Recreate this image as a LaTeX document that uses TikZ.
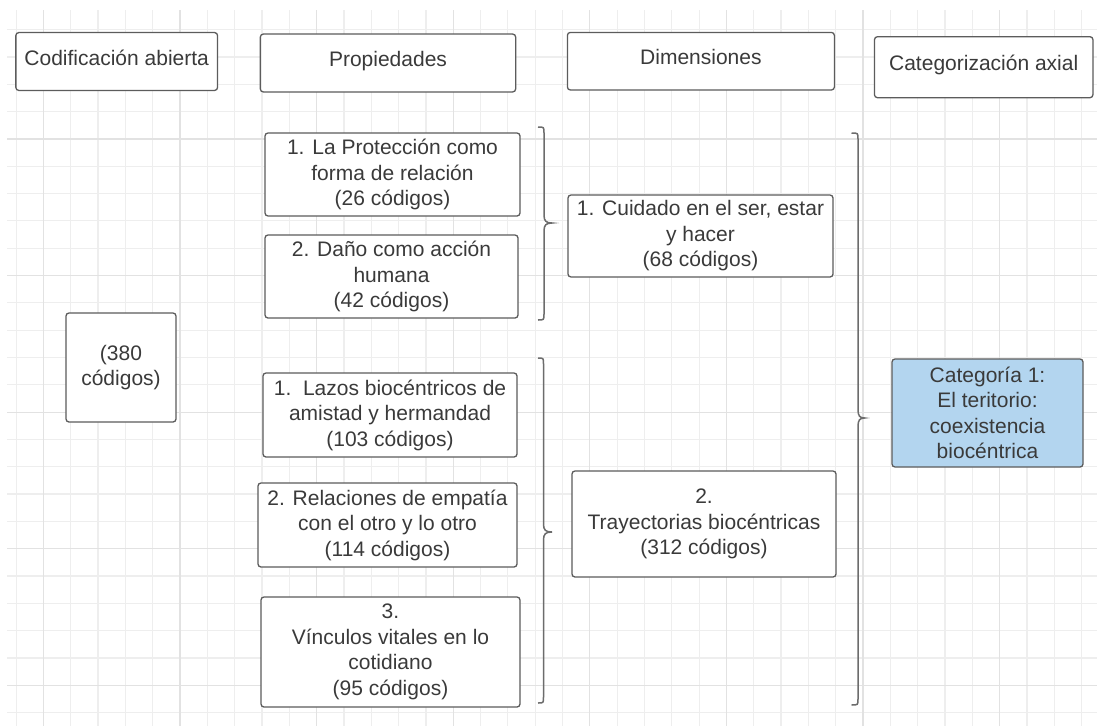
\documentclass[tikz,border=0pt]{standalone}
\usepackage{fontspec}
\setmainfont{Liberation Sans}
\definecolor{gminor}{HTML}{EEEEEE}
\definecolor{gmajor}{HTML}{E2E2E2}
\definecolor{boxline}{HTML}{5C5C5C}
\definecolor{txt}{HTML}{3A3A3A}
\definecolor{catblue}{HTML}{B3D5EF}
\tikzset{
  gridminor/.style={draw=gminor, line width=1.2pt},
  gridmajor/.style={draw=gmajor, line width=1.2pt},
  box/.style={draw=boxline, line width=1.3pt, rounded corners=3pt, fill=white,
    align=center, text=txt, inner sep=0pt,
    font=\fontsize{21}{25.5}\selectfont},
  headbox/.style={box, text height=12pt, text depth=5pt},
  brc/.style={draw=boxline!90, line width=1.5pt},
}
\begin{document}
\begin{tikzpicture}[x=1pt,y=-1pt]
\useasboundingbox (0,0) rectangle (1097,726);
\fill[white] (0,0) rectangle (1097,726);
% grid
\foreach \k in {0,...,39} {
  \pgfmathsetmacro\xx{16.1+27.32*\k}
  \draw[gridminor] (\xx,10) -- (\xx,726);
}
\foreach \k in {-1,...,24} {
  \pgfmathsetmacro\yy{685.3-27.32*\k}
  \draw[gridminor] (7,\yy) -- (1097,\yy);
}
\foreach \k in {1,6,...,36} {
  \pgfmathsetmacro\xx{16.1+27.32*\k}
  \draw[gridmajor] (\xx,10) -- (\xx,726);
}
\foreach \k in {0,5,...,20} {
  \pgfmathsetmacro\yy{685.3-27.32*\k}
  \draw[gridmajor] (7,\yy) -- (1097,\yy);
}
% headers
\node[headbox, minimum width=201.7pt, minimum height=57.9pt] (cod) at (116.7,61.5) {Codificación abierta};
\node[headbox, minimum width=255.3pt, minimum height=57.9pt] (prop) at (388,63) {Propiedades};
\node[headbox, minimum width=267pt, minimum height=57.6pt] (dim) at (700.9,61.2) {Dimensiones};
\node[headbox, minimum width=218.5pt, minimum height=61pt] (cax) at (983.7,67.2) {Categorización axial};
% left
\node[box, minimum width=110pt, minimum height=109pt] (total) at (121,367.5) {(380\\códigos)};
% propiedades
\node[box, minimum width=255pt, minimum height=83pt] (p1) at (392.5,174.5) {1. La Protección como\\forma de relación\\(26 códigos)};
\node[box, minimum width=253pt, minimum height=83pt] (p2) at (391.5,276.5) {2. Daño como acción\\humana\\(42 códigos)};
\node[box, minimum width=254pt, minimum height=84pt] (p3) at (390,415) {1.\ \ Lazos biocéntricos de\\amistad y hermandad\\(103 códigos)};
\node[box, minimum width=259pt, minimum height=84pt] (p4) at (387.5,525) {2. Relaciones de empatía\\con el otro y lo otro\\(114 códigos)};
\node[box, minimum width=259pt, minimum height=110pt] (p5) at (390.5,652) {3.\\Vínculos vitales en lo\\cotidiano\\(95 códigos)};
% dimensiones
\node[box, minimum width=265pt, minimum height=82pt] (d1) at (700.5,236) {1. Cuidado en el ser, estar\\y hacer\\(68 códigos)};
\node[box, minimum width=264pt, minimum height=106pt] (d2) at (704,524) {2.\\Trayectorias biocéntricas\\(312 códigos)};
% categoria
\node[box, fill=catblue, minimum width=191pt, minimum height=108pt] (cat) at (987.5,413) {Categoría 1:\\El teritorio:\\coexistencia\\biocéntrica};
% braces
\draw[brc] (538,127) .. controls (544,127) .. (544,133) -- (544,215)
  .. controls (544,221) and (546,223) .. (552,223) .. controls (546,223) and (544,225) .. (544,231)
  -- (544,314) .. controls (544,320) .. (538,320);
\draw[brc] (538,358) .. controls (543.5,358) .. (543.5,364) -- (543.5,524)
  .. controls (543.5,530) and (545.5,532) .. (552,532) .. controls (545.5,532) and (543.5,534) .. (543.5,540)
  -- (543.5,697) .. controls (543.5,703) .. (538,703);
\draw[brc] (851.5,133) .. controls (858,133) .. (858,139) -- (858,410)
  .. controls (858,416) and (860,418) .. (864.5,418) .. controls (860,418) and (858,420) .. (858,426)
  -- (858,699) .. controls (858,705) .. (851.5,705);
\end{tikzpicture}
\end{document}
